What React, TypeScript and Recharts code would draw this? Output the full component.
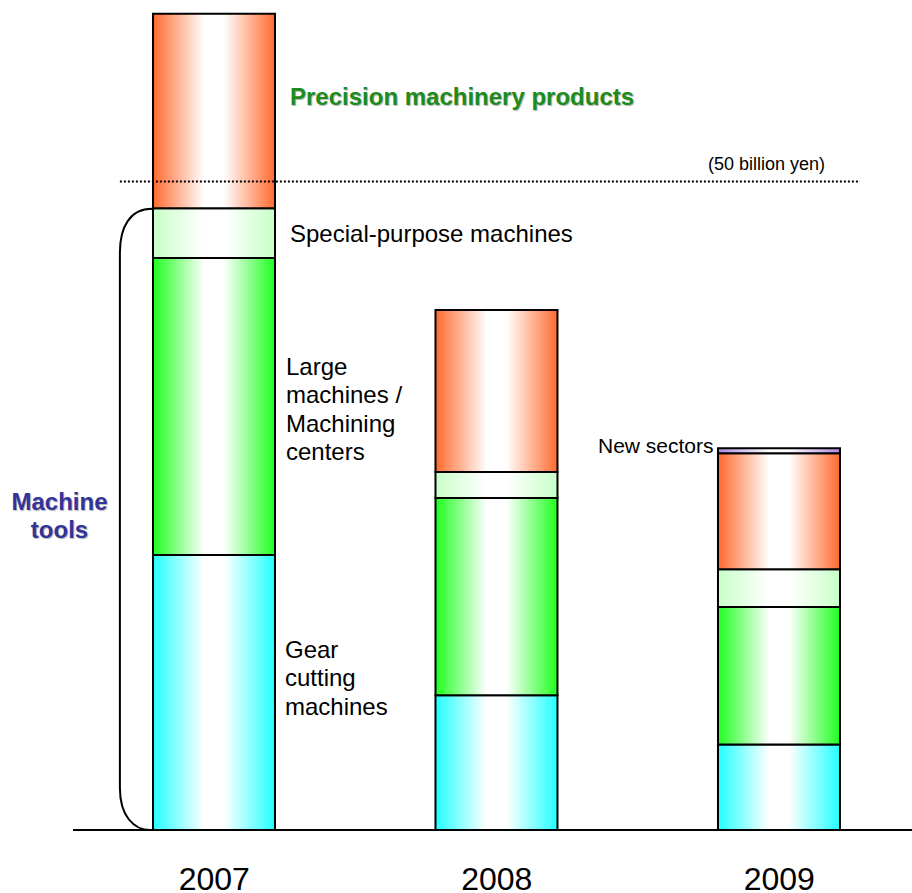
import React from "react";
import { Bar, BarChart, ReferenceArea, ReferenceLine, XAxis, YAxis } from "recharts";

// values in billions of yen (bottom to top)
const years = ["2007", "2008", "2009"];
const gearCutting = [21.2, 10.4, 6.6];
const largeMachines = [22.9, 15.2, 10.6];
const specialPurpose = [3.85, 2.0, 2.9];
const precisionMachinery = [15.0, 12.5, 8.95];
const newSectors = [0, 0, 0.38];

const data = years.map((year, i) => ({
  x: i,
  year,
  gear: gearCutting[i],
  large: largeMachines[i],
  special: specialPurpose[i],
  precision: precisionMachinery[i],
  newSec: newSectors[i],
}));

const FONT = '"Liberation Sans", Arial, sans-serif';

// horizontal "cylinder" shading: colour at the edges, white in the middle
function Shade({ id, color }: { id: string; color: string }) {
  return (
    <linearGradient id={id} x1="0" y1="0" x2="1" y2="0">
      <stop offset="0%" stopColor={color} />
      <stop offset="42%" stopColor="#ffffff" />
      <stop offset="58%" stopColor="#ffffff" />
      <stop offset="100%" stopColor={color} />
    </linearGradient>
  );
}

function YearTick({ x, y, payload }: any) {
  return (
    <text x={x} y={y} dy={58} textAnchor="middle" fontSize={32} fontFamily={FONT} fill="#000">
      {years[payload.value]}
    </text>
  );
}

// curly bracket grouping the machine-tool segments of 2007
function Brace({ x, y, width, height }: any) {
  const x0 = x;
  const x1 = x + width;
  const y0 = y;
  const y1 = y + height;
  const d = `M ${x1} ${y0} C ${x0 + 10} ${y0} ${x0} ${y0 + 18} ${x0} ${y0 + 44} L ${x0} ${y1 - 42} C ${x0} ${y1 - 14} ${x0 + 14} ${y1} ${x1 - 2} ${y1}`;
  return <path d={d} fill="none" stroke="#000" strokeWidth={2} />;
}

const label = (extra: React.CSSProperties): React.CSSProperties => ({
  position: "absolute",
  fontFamily: FONT,
  fontSize: 24,
  lineHeight: "28.3px",
  color: "#000",
  whiteSpace: "nowrap",
  ...extra,
});

export default function App() {
  return (
    <div style={{ position: "absolute", left: 0, top: 0, width: 912, height: 893, background: "#fff" }}>
      <BarChart
        width={912}
        height={893}
        data={data}
        margin={{ top: 13, right: 0, bottom: 0, left: 73 }}
        barSize={122}
      >
        <defs>
          <Shade id="gGear" color="#22ffff" />
          <Shade id="gLarge" color="#1eff1e" />
          <Shade id="gSpecial" color="#c8ffc8" />
          <Shade id="gPrec" color="#ff6a2e" />
          <Shade id="gNew" color="#a98be0" />
        </defs>
        <XAxis
          dataKey="x"
          type="number"
          domain={[-0.5, 2.47]}
          ticks={[0, 1, 2]}
          height={63}
          tick={<YearTick />}
          tickLine={false}
          tickSize={0}
          axisLine={{ stroke: "#000", strokeWidth: 2 }}
          allowDataOverflow
        />
        <YAxis hide domain={[0, 63]} />
        <ReferenceArea
          x1={-0.334}
          x2={-0.22}
          y1={0}
          y2={47.9}
          shape={<Brace />}
          ifOverflow="visible"
        />
        <Bar dataKey="gear" stackId="s" fill="url(#gGear)" stroke="#000" strokeWidth={2} isAnimationActive={false} />
        <Bar dataKey="large" stackId="s" fill="url(#gLarge)" stroke="#000" strokeWidth={2} isAnimationActive={false} />
        <Bar dataKey="special" stackId="s" fill="url(#gSpecial)" stroke="#000" strokeWidth={2} isAnimationActive={false} />
        <Bar dataKey="precision" stackId="s" fill="url(#gPrec)" stroke="#000" strokeWidth={2} isAnimationActive={false} />
        <Bar dataKey="newSec" stackId="s" fill="url(#gNew)" stroke="#000" strokeWidth={2} isAnimationActive={false} />
        <ReferenceLine
          segment={[
            { x: -0.334, y: 50 },
            { x: 2.286, y: 50 },
          ]}
          stroke="#000"
          strokeWidth={2}
          strokeDasharray="2 2"
        />
      </BarChart>

      <div style={label({ left: 290, top: 83, fontWeight: "bold", color: "#1c8c1c", textShadow: "1px 1px 1px rgba(0,0,0,0.3)" })}>
        Precision machinery products
      </div>
      <div style={label({ left: 708, top: 154, fontSize: 18, lineHeight: "21px" })}>(50 billion yen)</div>
      <div style={label({ left: 290, top: 220 })}>Special-purpose machines</div>
      <div style={label({ left: 286, top: 353 })}>
        Large
        <br />
        machines /
        <br />
        Machining
        <br />
        centers
      </div>
      <div style={label({ left: 285, top: 636 })}>
        Gear
        <br />
        cutting
        <br />
        machines
      </div>
      <div style={label({ left: 598, top: 434, fontSize: 21, lineHeight: "24px" })}>New sectors</div>
      <div
        style={label({
          left: 0,
          width: 119,
          top: 488,
          textAlign: "center",
          fontWeight: "bold",
          color: "#333399",
          textShadow: "1px 1px 1px rgba(0,0,0,0.3)",
        })}
      >
        Machine
        <br />
        tools
      </div>
    </div>
  );
}
